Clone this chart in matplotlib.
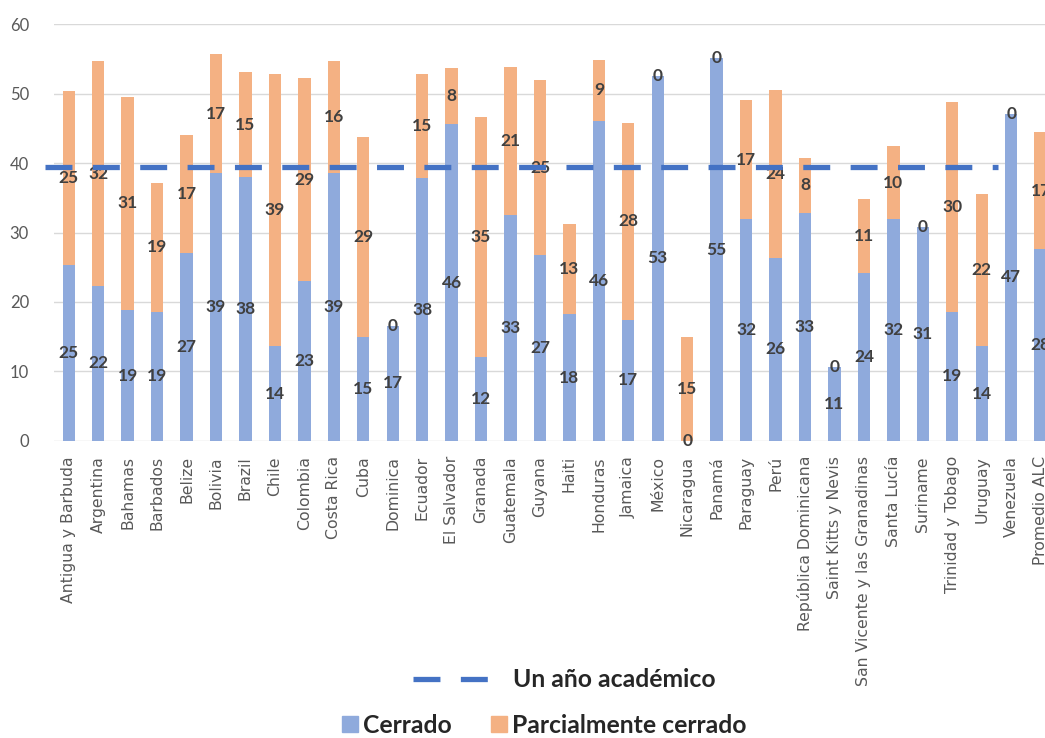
import matplotlib
matplotlib.use("Agg")
import matplotlib.pyplot as plt
import numpy as np
from matplotlib.lines import Line2D
from matplotlib.patches import Patch

paises = ["Antigua y Barbuda", "Argentina", "Bahamas", "Barbados", "Belize", "Bolivia",
          "Brazil", "Chile", "Colombia", "Costa Rica", "Cuba", "Dominica", "Ecuador",
          "El Salvador", "Granada", "Guatemala", "Guyana", "Haiti", "Honduras", "Jamaica",
          "México", "Nicaragua", "Panamá", "Paraguay", "Perú", "República Dominicana",
          "Saint Kitts y Nevis", "San Vicente y las Granadinas", "Santa Lucía", "Suriname",
          "Trinidad y Tobago", "Uruguay", "Venezuela", "Promedio ALC"]
cerrado = [25.3, 22.3, 18.8, 18.6, 27.1, 38.6, 38.0, 13.6, 23.0, 38.6, 15.0, 16.6, 37.8,
           45.6, 12.0, 32.6, 26.7, 18.2, 46.1, 17.4, 52.6, 0.0, 55.1, 31.9, 26.3, 32.8,
           10.6, 24.1, 32.0, 30.8, 18.6, 13.6, 47.1, 27.6]
parcial = [25.1, 32.4, 30.8, 18.6, 16.9, 17.1, 15.1, 39.3, 29.2, 16.1, 28.7, 0.0, 15.1,
           8.1, 34.7, 21.2, 25.3, 13.0, 8.8, 28.4, 0.0, 15.0, 0.0, 17.2, 24.2, 8.0,
           0.0, 10.7, 10.4, 0.0, 30.2, 21.9, 0.0, 16.9]
un_ano = 39.5
linea_desde, linea_hasta = -0.8, 31.55

azul = "#8FAADC"
naranja = "#F4B183"
azul_linea = "#4472C4"
gris_txt = "#595959"
gris_lbl = "#404040"

fig = plt.figure(figsize=(10.45, 7.38), dpi=100)
ax = fig.add_axes([0.0517, 0.4028, 0.9582, 0.5642])

x = np.arange(len(paises))
b1 = ax.bar(x, cerrado, width=0.42, color=azul, zorder=2)
b2 = ax.bar(x, parcial, width=0.42, bottom=cerrado, color=naranja, zorder=2)

lbl_font = dict(family="Lato", weight="bold", size=12.5)
ax.bar_label(b1, labels=["%.0f" % v for v in cerrado], label_type="center",
             color=gris_lbl, zorder=3, **lbl_font)
ax.bar_label(b2, labels=["%.0f" % v for v in parcial], label_type="center",
             color=gris_lbl, zorder=3, **lbl_font)

lw = 3.8
ax.hlines(un_ano, linea_desde, linea_hasta, colors=azul_linea, linewidth=lw,
          linestyles=[(0, (19.4 / lw, 14.7 / lw))], zorder=4, clip_on=False)

ax.set_xlim(-0.5, len(paises) - 0.5)
ax.set_ylim(0, 60)
ax.set_yticks(range(0, 61, 10))
ax.yaxis.grid(True, color="#D9D9D9", linewidth=1)
ax.set_axisbelow(True)
for s in ax.spines.values():
    s.set_visible(False)
ax.tick_params(axis="both", length=0)
ax.tick_params(axis="y", pad=18, labelcolor=gris_txt, labelsize=12)
for t in ax.get_yticklabels():
    t.set_family("Lato")
ax.set_xticks(x)
ax.set_xticklabels(paises, rotation=90, fontsize=11.3, color=gris_txt, family="DejaVu Sans")
ax.tick_params(axis="x", pad=11)

leg_font = dict(family="Lato", weight="bold", size=17.8)
h_line = Line2D([0], [0], color=azul_linea, linewidth=lw,
                linestyle=(0, (19.4 / lw, 14.7 / lw)))
fig.legend(handles=[h_line], labels=["Un año académico"], loc="center",
           bbox_to_anchor=(0.5397, 0.0786), frameon=False, prop=leg_font,
           handlelength=3.1, handletextpad=0.95, borderpad=0, labelcolor="#262626")
h_bars = [Patch(color=azul), Patch(color=naranja)]
fig.legend(handles=h_bars, labels=["Cerrado", "Parcialmente cerrado"], loc="center",
           bbox_to_anchor=(0.521, 0.0176), frameon=False, prop=leg_font, ncol=2,
           handlelength=0.65, handleheight=0.62, handletextpad=0.2, columnspacing=1.6,
           borderpad=0, labelcolor="#262626")

fig.savefig("out.png", dpi=100)
